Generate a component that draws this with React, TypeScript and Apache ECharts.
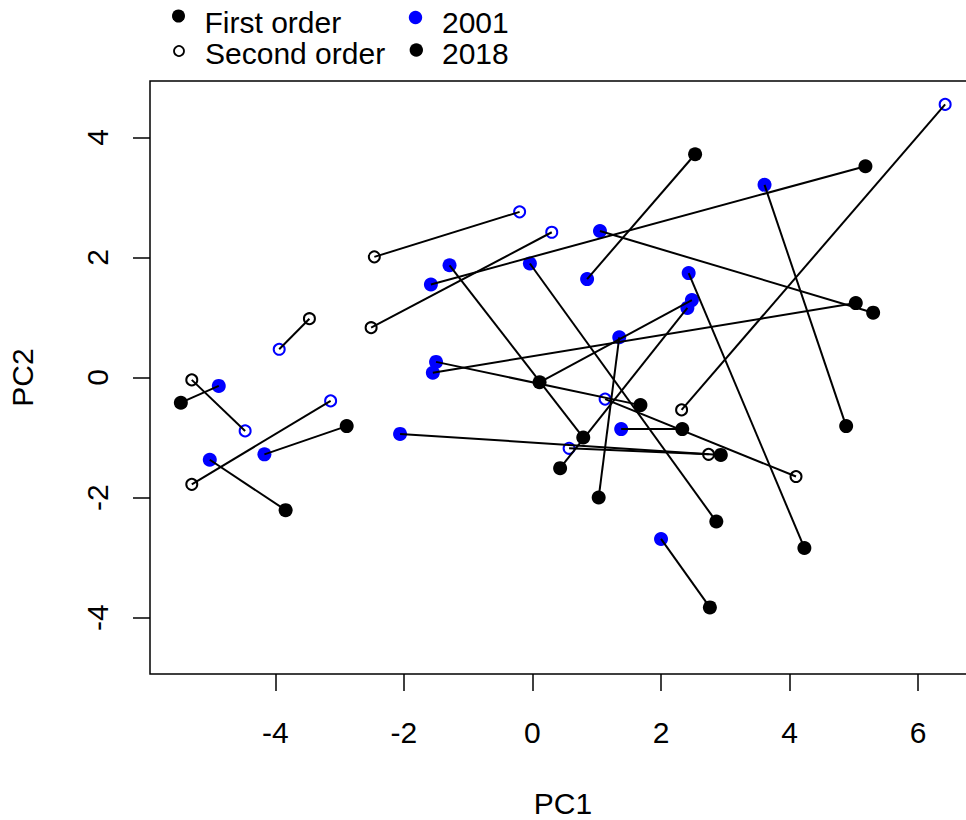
import React, { useEffect, useRef } from "react";
import * as echarts from "echarts";

// First-order taxa: PC scores in 2001 and 2018 (pairs in the same order)
const firstPC1_2001 = [-4.88, -5.02, -4.17, -2.06, -1.58, -1.29, -1.5, -1.55, -0.04, 0.85, 1.05, 1.35, 1.38, 2.43, 2.48, 2.41, 3.61, 2.0];
const firstPC2_2001 = [-0.14, -1.37, -1.28, -0.94, 1.55, 1.87, 0.26, 0.08, 1.9, 1.64, 2.44, 0.67, -0.86, 1.74, 1.29, 1.16, 3.21, -2.69];
const firstPC1_2018 = [-5.47, -3.84, -2.89, 2.93, 5.18, 0.79, 1.68, 5.03, 2.86, 2.53, 5.3, 1.03, 2.33, 4.23, 0.11, 0.43, 4.88, 2.76];
const firstPC2_2018 = [-0.42, -2.21, -0.81, -1.29, 3.52, -1.0, -0.46, 1.24, -2.4, 3.72, 1.08, -2.0, -0.86, -2.84, -0.08, -1.51, -0.81, -3.83];

// Second-order taxa
const secondPC1_2001 = [-3.94, -4.47, -3.14, -0.2, 0.3, 6.42, 1.13, 0.57];
const secondPC2_2001 = [0.47, -0.89, -0.39, 2.76, 2.42, 4.55, -0.36, -1.18];
const secondPC1_2018 = [-3.47, -5.3, -5.3, -2.46, -2.51, 2.32, 4.1, 2.74];
const secondPC2_2018 = [0.98, -0.04, -1.78, 2.01, 0.83, -0.54, -1.65, -1.28];

const xTicks = [-4, -2, 0, 2, 4, 6];
const yTicks = [-4, -2, 0, 2, 4];
const xRange = [-5.95, 6.9];
const yRange = [-4.94, 4.94];
const legendOrder = ["First order", "Second order"];
const legendYear = ["2001", "2018"];

const FONT = "Liberation Sans, Arial, Helvetica, sans-serif";
const BLUE = "#0000FF";

function pts(xs: number[], ys: number[]) {
  return xs.map((x, i) => [x, ys[i]]);
}

function segs(x1: number[], y1: number[], x2: number[], y2: number[]) {
  return x1.map((x, i) => ({ coords: [[x, y1[i]], [x2[i], y2[i]]] }));
}

export default function App() {
  const ref = useRef<HTMLDivElement>(null);
  useEffect(() => {
    if (!ref.current) return;
    const chart = echarts.init(ref.current, undefined, { renderer: "svg" });
    const legendText = (text: string, x: number, y: number) => ({
      type: "text",
      x,
      y,
      style: { text, fontSize: 30, fontFamily: FONT, fill: "#000", verticalAlign: "middle", align: "left" },
    });
    chart.setOption({
      animation: false,
      backgroundColor: "#fff",
      grid: {
        left: 150,
        top: 81,
        width: 826,
        height: 593,
        outerBoundsMode: "none",
        containLabel: false,
        show: true,
        borderColor: "#000",
        borderWidth: 1.5,
        backgroundColor: "transparent",
      },
      xAxis: {
        type: "value",
        position: "bottom",
        min: xRange[0],
        max: xRange[1],
        name: "PC1",
        nameLocation: "middle",
        nameGap: 114,
        nameTextStyle: { fontSize: 30, fontFamily: FONT, color: "#000" },
        axisLine: { show: false, onZero: false },
        splitLine: { show: false },
        axisTick: { show: true, length: 17, customValues: xTicks, lineStyle: { color: "#000", width: 1.5 } },
        axisLabel: { show: true, customValues: xTicks, margin: 43, fontSize: 30, fontFamily: FONT, color: "#000" },
      },
      yAxis: {
        type: "value",
        position: "left",
        min: yRange[0],
        max: yRange[1],
        name: "PC2",
        nameLocation: "middle",
        nameGap: 113,
        nameTextStyle: { fontSize: 30, fontFamily: FONT, color: "#000" },
        axisLine: { show: false, onZero: false },
        splitLine: { show: false },
        axisTick: { show: true, length: 17, customValues: yTicks, lineStyle: { color: "#000", width: 1.5 } },
        axisLabel: { show: true, customValues: yTicks, rotate: 90, margin: 38, fontSize: 30, fontFamily: FONT, color: "#000" },
      },
      series: [
        {
          type: "scatter",
          name: "first2001",
          data: pts(firstPC1_2001, firstPC2_2001),
          symbol: "circle",
          symbolSize: 14,
          itemStyle: { color: BLUE, opacity: 1 },
          z: 2,
        },
        {
          type: "scatter",
          name: "first2018",
          data: pts(firstPC1_2018, firstPC2_2018),
          symbol: "circle",
          symbolSize: 14,
          itemStyle: { color: "#000", opacity: 1 },
          z: 2,
        },
        {
          type: "scatter",
          name: "second2001",
          data: pts(secondPC1_2001, secondPC2_2001),
          symbol: "circle",
          symbolSize: 11,
          itemStyle: { color: "rgba(255,255,255,0)", borderColor: BLUE, borderWidth: 2, opacity: 1 },
          z: 2,
        },
        {
          type: "scatter",
          name: "second2018",
          data: pts(secondPC1_2018, secondPC2_2018),
          symbol: "circle",
          symbolSize: 11,
          itemStyle: { color: "rgba(255,255,255,0)", borderColor: "#000", borderWidth: 2, opacity: 1 },
          z: 2,
        },
        {
          type: "lines",
          coordinateSystem: "cartesian2d",
          data: segs(firstPC1_2001, firstPC2_2001, firstPC1_2018, firstPC2_2018),
          lineStyle: { color: "#000", width: 2, opacity: 1, curveness: 0 },
          z: 3,
        },
        {
          type: "lines",
          coordinateSystem: "cartesian2d",
          data: segs(secondPC1_2001, secondPC2_2001, secondPC1_2018, secondPC2_2018),
          lineStyle: { color: "#000", width: 2, opacity: 1, curveness: 0 },
          z: 3,
        },
      ],
      graphic: [
        { type: "circle", shape: { cx: 178.5, cy: 16, r: 6.5 }, style: { fill: "#000" } },
        { type: "circle", shape: { cx: 179, cy: 51, r: 5 }, style: { fill: "none", stroke: "#000", lineWidth: 1.8 } },
        { type: "circle", shape: { cx: 415.5, cy: 17.5, r: 6.7 }, style: { fill: BLUE } },
        { type: "circle", shape: { cx: 416.3, cy: 50, r: 6.7 }, style: { fill: "#000" } },
        legendText(legendOrder[0], 204.5, 22),
        legendText(legendOrder[1], 205, 53),
        legendText(legendYear[0], 442, 22),
        legendText(legendYear[1], 442, 53),
      ],
    });
    return () => chart.dispose();
  }, []);
  return (
    <div style={{ position: "absolute", left: 0, top: 0, width: 966, height: 820, overflow: "hidden", background: "#fff" }}>
      <div ref={ref} style={{ width: 990, height: 820 }} />
    </div>
  );
}
